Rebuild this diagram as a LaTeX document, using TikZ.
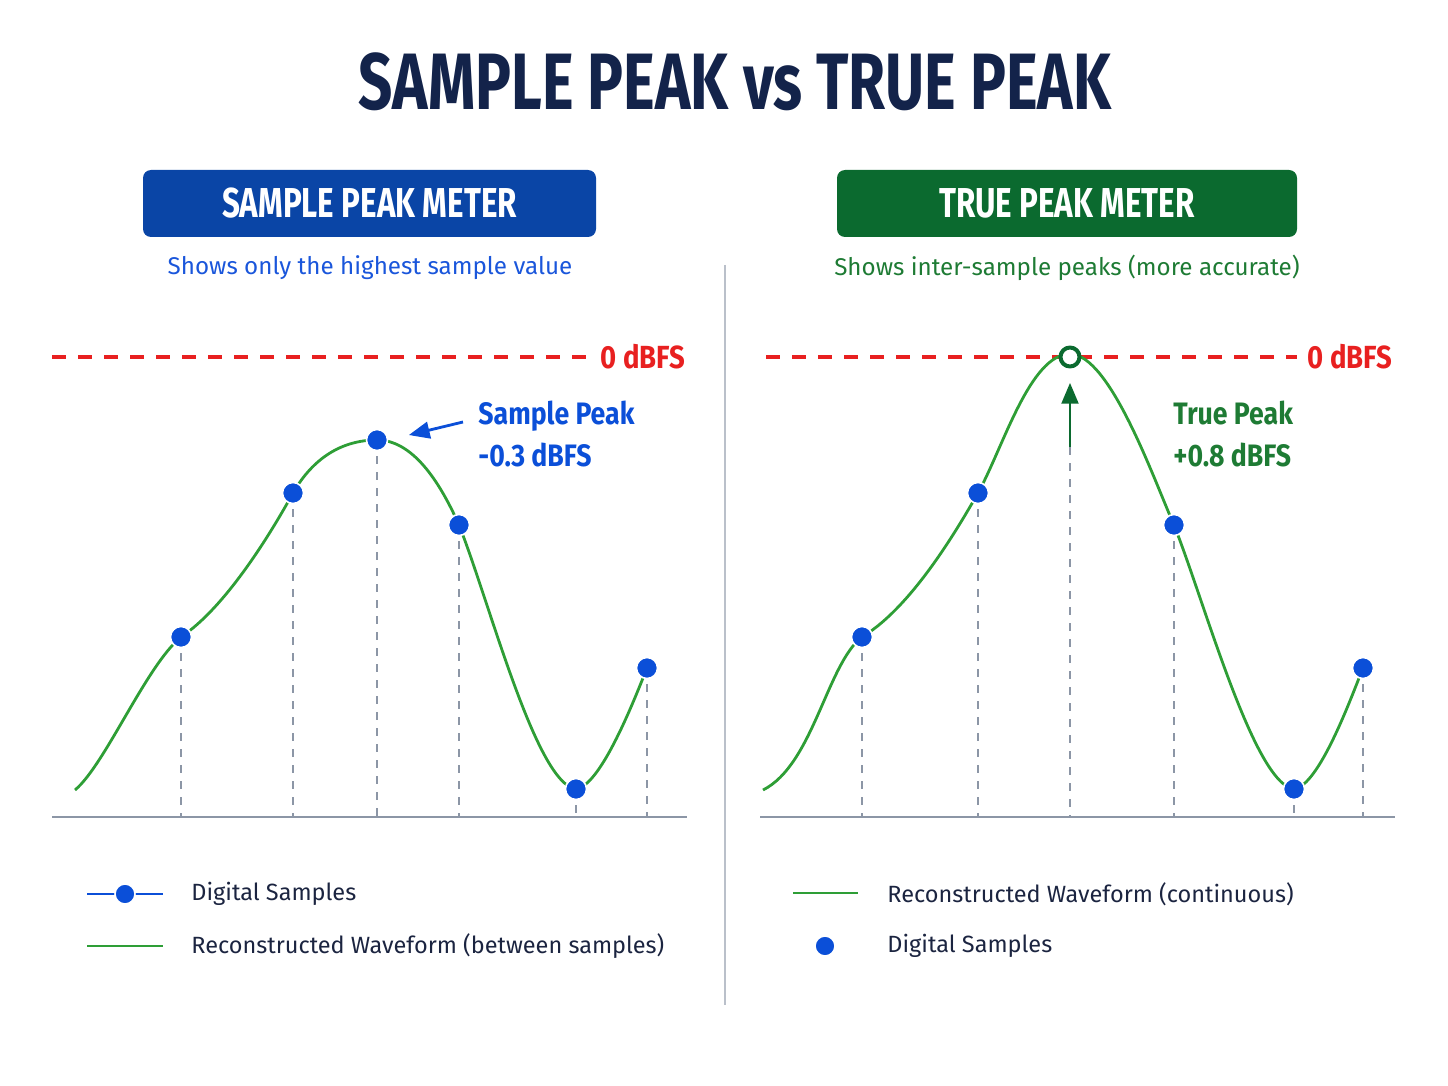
\documentclass[tikz,border=0pt]{standalone}
\usepackage{fontspec}
\setmainfont{Fira Sans}
\newfontfamily\titlefont{Fira Sans}[FakeStretch=0.75]
\newfontfamily\labelfont{Fira Sans}[FakeStretch=0.86]
\usetikzlibrary{arrows}

\definecolor{navy}{HTML}{13234A}
\definecolor{boxblue}{HTML}{0A45A6}
\definecolor{boxgreen}{HTML}{0B6A2F}
\definecolor{subblue}{HTML}{1A56DB}
\definecolor{subgreen}{HTML}{1E7B34}
\definecolor{dotblue}{HTML}{0B4FD8}
\definecolor{wavegreen}{HTML}{2E9E36}
\definecolor{zeroRed}{HTML}{E82020}
\definecolor{axisgray}{HTML}{8C96A6}
\definecolor{legendtext}{HTML}{1B2440}

\tikzset{
  meterbox/.style={rounded corners=4pt,minimum height=33.5pt,inner sep=0pt,
    text=white,font=\titlefont\bfseries\fontsize{20.9}{23}\selectfont},
  subline/.style={font=\fontsize{12.1}{15}\selectfont,inner sep=0pt},
  peaklabel/.style={font=\labelfont\bfseries\fontsize{15.5}{20}\selectfont,
    align=left,anchor=north west,inner sep=0pt},
  zerolabel/.style={font=\labelfont\bfseries\fontsize{16}{18}\selectfont,
    text=zeroRed,anchor=west,inner sep=0pt},
  legendlabel/.style={font=\fontsize{11.75}{15}\selectfont,text=legendtext,
    anchor=west,inner sep=0pt},
  sample/.style={circle,fill=dotblue,draw=white,line width=0.8pt,
    minimum size=10.5pt,inner sep=0pt},
  wave/.style={wavegreen,line width=1.4pt},
  guide/.style={axisgray,line width=1pt,dash pattern=on 4pt off 4pt},
  zeroline/.style={zeroRed,line width=1.6pt,dash pattern=on 7pt off 6pt},
  baseline/.style={axisgray,line width=1.4pt}
}

\begin{document}
\begin{tikzpicture}[line join=round,>=triangle 45,x=0.5pt,y=-0.5pt]
		\useasboundingbox (0,0) rectangle (1448,1086);
		% title and headers
		\node[text=navy,font=\titlefont\bfseries\fontsize{40}{44}\selectfont] (title) at (735,82) {SAMPLE PEAK vs TRUE PEAK};
		\node[meterbox,fill=boxblue,minimum width=226.5pt] (lbox) at (369.5,203.5) {SAMPLE PEAK METER};
		\node[meterbox,fill=boxgreen,minimum width=230pt] (rbox) at (1067,203.5) {TRUE PEAK METER};
		\node[subline,text=subblue] (lsub) at (370,268) {Shows only the highest sample value};
		\node[subline,text=subgreen] (rsub) at (1067,268) {Shows inter-sample peaks (more accurate)};
		\draw [axisgray!60,line width=0.8pt] (725,265)-- (725,1005);
		% left panel
		\coordinate (lbase) at (52,817);
		\coordinate (lend) at (687,817);
		\coordinate (ls0) at (75,790);
		\coordinate (ls1) at (181,637);
		\coordinate (ls2) at (293,493);
		\coordinate (ls3) at (377,440);
		\coordinate (ls4) at (459,525);
		\coordinate (ls5) at (576,789);
		\coordinate (ls6) at (647,668);
		\draw [zeroline] (52,357)-- (590,357) coordinate (lzero);
		\node[zerolabel] (lzerotext) at (600,357) {0 dBFS};
		\draw [baseline] (lbase)-- (lend);
		\foreach \s in {ls1,ls2,ls3,ls4,ls5,ls6}
			\draw [guide] (\s)-- (\s |- lbase);
		\draw [wave] (ls0) .. controls +(30,-25) and +(-35,29) .. (ls1)
			.. controls +(45,-30) and +(-22,40) .. (ls2)
			.. controls +(20,-35) and +(-35,0) .. (ls3)
			.. controls +(35,0) and +(-20,-45) .. (ls4)
			.. controls +(30,75) and +(-40,-5) .. (ls5)
			.. controls +(25,-3) and +(-12,30) .. (ls6);
		\foreach \s in {1,...,6}
			\node[sample] (ldot\s) at (ls\s) {};
		\node[peaklabel,text=dotblue] (lpeak) at (478,401) {Sample Peak\\[1pt]-0.3 dBFS};
		\coordinate (larrow) at (463,422);
		\coordinate (ltip) at (409,435);
		\draw [->,dotblue,line width=1.4pt] (larrow)-- (ltip);
		% right panel
		\coordinate (rbase) at (760,817);
		\coordinate (rend) at (1395,817);
		\coordinate (rs0) at (763,790);
		\coordinate (rs1) at (862,637);
		\coordinate (rs2) at (978,493);
		\coordinate (rtp) at (1070,354);
		\coordinate (rs4) at (1174,525);
		\coordinate (rs5) at (1294,789);
		\coordinate (rs6) at (1363,668);
		\draw [zeroline] (766,357)-- (1297,357) coordinate (rzero);
		\node[zerolabel] (rzerotext) at (1307,357) {0 dBFS};
		\draw [baseline] (rbase)-- (rend);
		\foreach \s in {rs1,rs2,rs4,rs5,rs6}
			\draw [guide] (\s)-- (\s |- rbase);
		\coordinate (rarrowfoot) at (1070,447);
		\draw [guide] (rarrowfoot)-- (rarrowfoot |- rbase);
		\draw [wave] (rs0) .. controls +(50,-25) and +(-35,27) .. (rs1)
			.. controls +(50,-30) and +(-20,35) .. (rs2)
			.. controls +(25,-45) and +(-40,0) .. (rtp)
			.. controls +(40,0) and +(-20,-45) .. (rs4)
			.. controls +(30,75) and +(-40,-5) .. (rs5)
			.. controls +(25,-3) and +(-12,30) .. (rs6);
		\foreach \s in {1,2,4,5,6}
			\node[sample] (rdot\s) at (rs\s) {};
		\node[circle,draw=boxgreen,fill=white,line width=2pt,minimum size=9.5pt,inner sep=0pt] (tpdot) at (1070,357) {};
		\coordinate (rarrowtip) at (1070,383);
		\draw [->,boxgreen,line width=1.4pt] (rarrowfoot)-- (rarrowtip);
		\node[peaklabel,text=subgreen] (rpeak) at (1173,401) {True Peak\\[1pt]+0.8 dBFS};
		% legends
		\coordinate (lk1a) at (87,894);
		\coordinate (lk1b) at (163,894);
		\draw [dotblue,line width=1.4pt] (lk1a)-- (lk1b);
		\node[sample,minimum size=10pt] (lkdot) at (125,894) {};
		\node[legendlabel] (lk1) at (191,894) {Digital Samples};
		\coordinate (lk2a) at (87,946);
		\coordinate (lk2b) at (163,946);
		\draw [wavegreen,line width=1.4pt] (lk2a)-- (lk2b);
		\node[legendlabel] (lk2) at (191,946) {Reconstructed Waveform (between samples)};
		\coordinate (rk1a) at (793,893);
		\coordinate (rk1b) at (858,893);
		\draw [wavegreen,line width=1.4pt] (rk1a)-- (rk1b);
		\node[legendlabel] (rk1) at (887,894) {Reconstructed Waveform (continuous)};
		\node[sample,minimum size=10pt] (rkdot) at (825,946) {};
		\node[legendlabel] (rk2) at (887,946) {Digital Samples};
	\end{tikzpicture}
\end{document}
